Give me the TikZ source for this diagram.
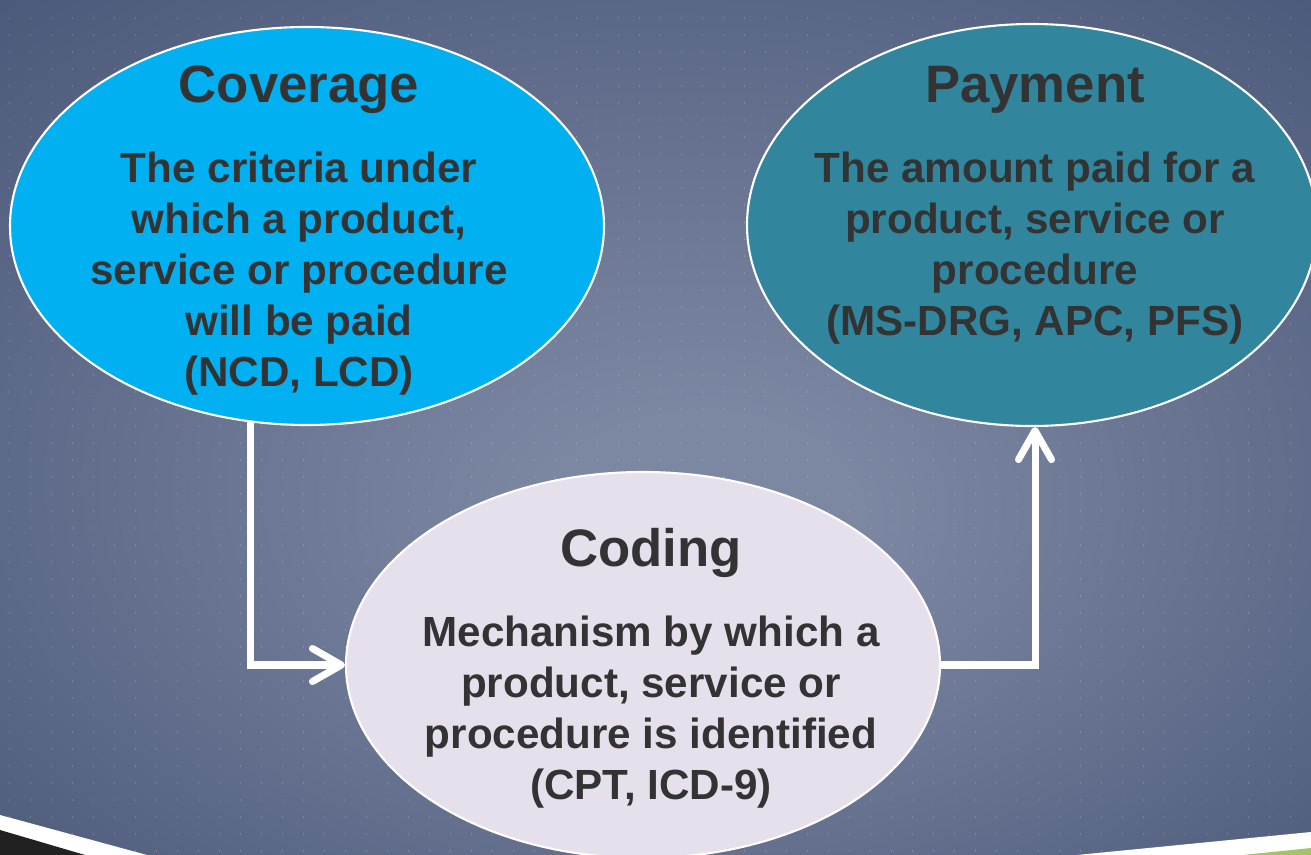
\documentclass[tikz,border=0pt]{standalone}
\usepackage{fontspec}
\setmainfont{Liberation Sans}
\usetikzlibrary{positioning,arrows.meta,shapes.geometric}

\definecolor{bglight}{HTML}{7C87A2}
\definecolor{bgdark}{HTML}{4A5778}
\definecolor{ink}{HTML}{333333}
\definecolor{covfill}{HTML}{00B0F0}
\definecolor{payfill}{HTML}{31859C}
\definecolor{codfill}{HTML}{E5E0EC}
\definecolor{leaf}{HTML}{A2C462}
\pgfdeclareradialshading{slidebg}{\pgfpoint{2bp}{-6bp}}{color(0bp)=(bglight); color(6bp)=(bglight); color(38bp)=(bgdark); color(50bp)=(bgdark)}

\begin{document}
\begin{tikzpicture}[
		bubble/.style={ellipse, draw=white, line width=0.6pt, inner sep=0pt},
		ttl/.style={font=\fontsize{15}{18}\selectfont\bfseries, text=ink, inner sep=0pt},
		txt/.style={font=\fontsize{12}{14.5}\selectfont\bfseries, text=ink, align=center, inner sep=0pt},
		link/.style={draw=white, line width=2pt, -{Straight Barb[length=2.9mm, width=3.3mm, round]}}
		]
		% slide background
		\useasboundingbox (0,0) rectangle (13.11,-8.55);
		\clip (0,0) rectangle (13.11,-8.55);
		\shade[shading=slidebg] (0,0) rectangle (13.11,-8.55);
		\foreach \i in {0,...,61}
			\foreach \j in {0,...,49}
				\fill[white, opacity=0.18] (0.09+0.21*\i,-0.17-0.17*\j) rectangle ++(0.012,-0.025);
		\fill[white] (0,-8.15) -- (1.47,-8.55) -- (0,-8.55) -- cycle;
		\fill[black!87] (0,-8.30) -- (0.85,-8.55) -- (0,-8.55) -- cycle;
		\fill[white] (13.11,-8.32) -- (10.77,-8.55) -- (13.11,-8.55) -- cycle;
		\fill[leaf] (13.11,-8.48) -- (12.43,-8.55) -- (13.11,-8.55) -- cycle;

		% the three ellipses
		\node[bubble, fill=covfill, minimum width=5.94cm, minimum height=3.98cm] (cov) at (3.07,-2.26) {};
		\node[bubble, fill=payfill, minimum width=5.70cm, minimum height=4.02cm] (pay) at (10.32,-2.25) {};
		\node[bubble, fill=codfill, minimum width=5.94cm, minimum height=3.86cm] (cod) at (6.43,-6.65) {};

		\node[ttl, below=0.39cm of cov.north, xshift=-0.08cm] (covt) {Coverage};
		\node[txt, below=0.37cm of covt] (covb) {The criteria under\\which a product,\\service or procedure\\will be paid\\(NCD, LCD)};
		\node[ttl, below=0.43cm of pay.north, xshift=0.03cm] (payt) {Payment};
		\node[txt, below=0.37cm of payt] (payb) {The amount paid for a\\product, service or\\procedure\\(MS-DRG, APC, PFS)};
		\node[ttl, below=0.57cm of cod.north, xshift=0.08cm] (codt) {Coding};
		\node[txt, below=0.37cm of codt] (codb) {Mechanism by which a\\product, service or\\procedure is identified\\(CPT, ICD-9)};

		\draw[link] (cov.254) |- (cod.west);
		\draw[link] (cod.east) -| ([xshift=0.03cm]pay.south);
	\end{tikzpicture}
\end{document}
